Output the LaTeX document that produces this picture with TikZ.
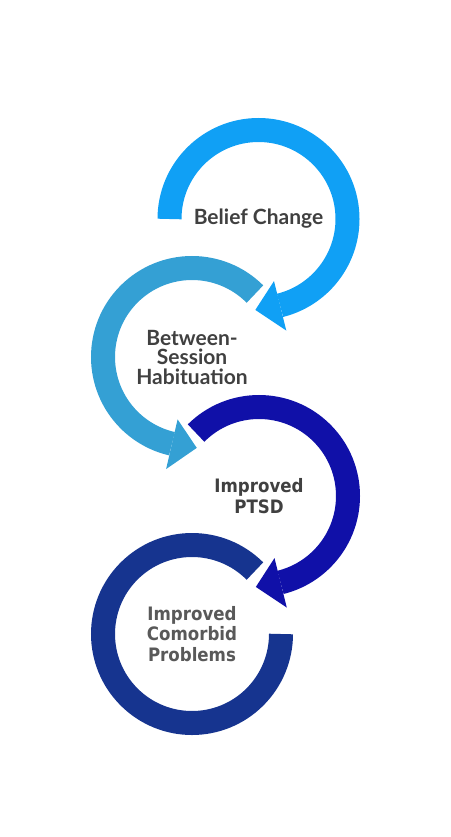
\documentclass[tikz,border=0pt]{standalone}
\usepackage{fontspec}
\newfontfamily\latofont{Lato}
\newfontfamily\dejafont{DejaVu Sans Condensed}
\definecolor{beliefc}{HTML}{10A0F5}
\definecolor{habitc}{HTML}{34A0D4}
\definecolor{ptsdc}{HTML}{1010A8}
\definecolor{comorbc}{HTML}{16348F}
\definecolor{txtc}{HTML}{404040}
\definecolor{txtlight}{HTML}{595959}

\begin{document}
\begin{tikzpicture}[
        x=1pt, y=1pt,
        % Styles
        ring/.style={line width=24pt, line cap=butt},
        lbl/.style={align=center, text=txtc, inner sep=0pt},
        lato/.style={font=\latofont\bfseries\fontsize{21}{19.5}\selectfont},
        deja/.style={font=\dejafont\bfseries\fontsize{18.5}{20.5}\selectfont},
    ]
    \useasboundingbox (0,0) rectangle (450,-837);

    %% -- Labels at the ring centres --
    \node[lbl, lato]                 (belief)   at (258.5,-219) {Belief Change};
    \node[lbl, lato]                 (habit)    at (192,-357)   {Between-\\Session\\Habituation};
    \node[lbl, deja]                 (ptsd)     at (259,-496)   {Improved\\PTSD};
    \node[lbl, deja, text=txtlight]  (comorb)   at (192,-634)   {Improved\\Comorbid\\Problems};

    %% -- Rings with arrowheads --
    % Belief Change (clockwise)
    \draw[ring, beliefc] ([shift={(180:89)}]belief.center) arc[start angle=180, end angle=-76, radius=89pt];
    \fill[beliefc] ([shift={(-76:64)}]belief.center) -- ([shift={(-92:91)}]belief.center)
        -- ([shift={(-76:115)}]belief.center) -- cycle;

    % Between-Session Habituation (counter-clockwise)
    \draw[ring, habitc] ([shift={(45:89)}]habit.center) arc[start angle=45, end angle=257, radius=89pt];
    \fill[habitc] ([shift={(257:64)}]habit.center) -- ([shift={(273:91)}]habit.center)
        -- ([shift={(257:115)}]habit.center) -- cycle;

    % Improved PTSD (clockwise)
    \draw[ring, ptsdc] ([shift={(135:89)}]ptsd.center) arc[start angle=135, end angle=-76, radius=89pt];
    \fill[ptsdc] ([shift={(-76:64)}]ptsd.center) -- ([shift={(-92:91)}]ptsd.center)
        -- ([shift={(-76:115)}]ptsd.center) -- cycle;

    % Improved Comorbid Problems (no head)
    \draw[ring, comorbc] ([shift={(45:89)}]comorb.center) arc[start angle=45, end angle=360, radius=89pt];

\end{tikzpicture}
\end{document}
